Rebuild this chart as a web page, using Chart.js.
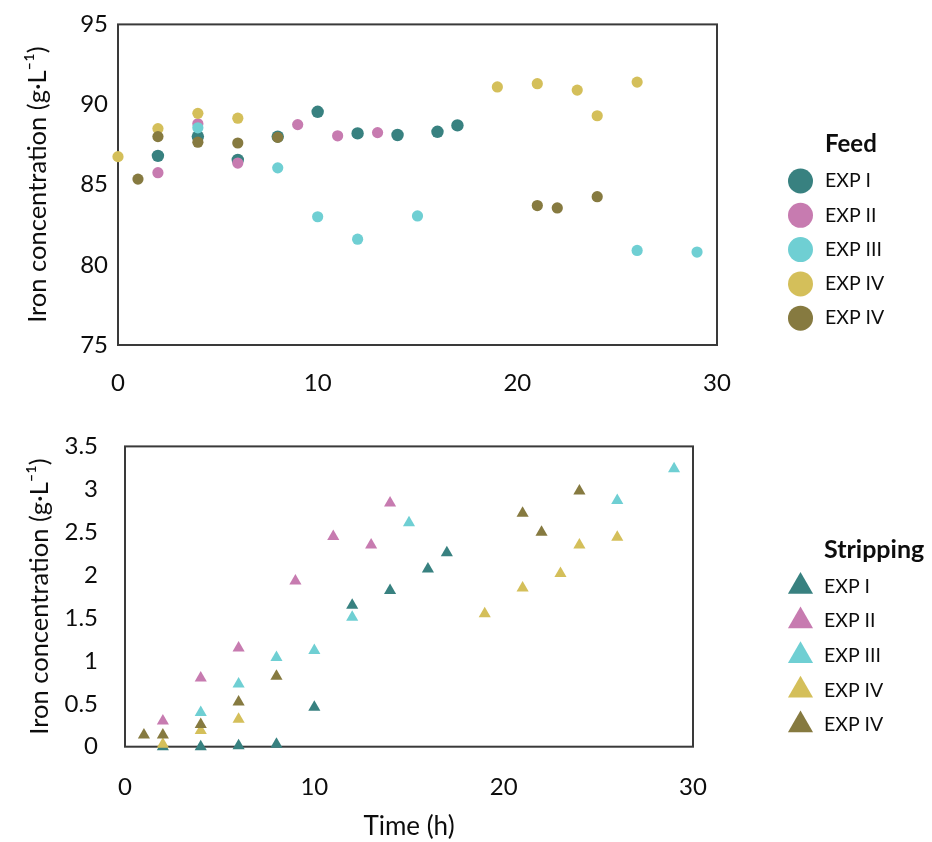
<!DOCTYPE html>
<html><head><meta charset="utf-8">
<script src="https://cdn.jsdelivr.net/npm/chart.js@4"></script>
<style>
html,body{margin:0;padding:0;background:#fff;overflow:hidden;width:932px;height:842px;}
canvas{position:absolute;left:0;}
#feed{top:0}
#strip{top:405px}
</style></head><body>
<canvas id="feed" width="932" height="410"></canvas>
<canvas id="strip" width="932" height="437"></canvas>
<script>
// ---------- data ----------
const seriesNames = ['EXP I', 'EXP II', 'EXP III', 'EXP IV', 'EXP IV'];
const seriesColors = ['#388180', '#c77bb0', '#6fcfd3', '#d4bf5a', '#867a40'];

const timeTicks = [0, 10, 20, 30];
const feedTicks = [75, 80, 85, 90, 95];
const stripTicks = [0, 0.5, 1, 1.5, 2, 2.5, 3, 3.5];

// Feed: [time (h), iron (g/L)]
const feedExpI   = [[2,86.8],[4,88.0],[6,86.55],[8,88.0],[10,89.55],[12,88.2],[14,88.1],[16,88.3],[17,88.7]];
const feedExpII  = [[2,85.75],[4,88.8],[6,86.35],[9,88.75],[11,88.05],[13,88.25]];
const feedExpIII = [[4,88.55],[8,86.05],[10,83.0],[12,81.6],[15,83.05],[26,80.9],[29,80.8]];
const feedExpIVa = [[0,86.75],[2,88.5],[4,89.45],[6,89.15],[19,91.1],[21,91.3],[23,90.9],[24,89.3],[26,91.4]];
const feedExpIVb = [[1,85.35],[2,88.0],[4,87.65],[6,87.6],[8,87.95],[21,83.7],[22,83.55],[24,84.25]];

// Stripping: [time (h), iron (g/L)]
const stripExpI   = [[2,0],[4,0],[6,0.01],[8,0.03],[10,0.46],[12,1.65],[14,1.82],[16,2.07],[17,2.26]];
const stripExpII  = [[2,0.30],[4,0.80],[6,1.15],[9,1.93],[11,2.45],[13,2.35],[14,2.84]];
const stripExpIII = [[4,0.40],[6,0.73],[8,1.04],[10,1.12],[12,1.51],[15,2.61],[26,2.87],[29,3.24]];
const stripExpIVa = [[2,0.03],[4,0.19],[6,0.32],[19,1.55],[21,1.85],[23,2.02],[24,2.35],[26,2.44]];
const stripExpIVb = [[1,0.135],[2,0.135],[4,0.26],[6,0.52],[8,0.82],[21,2.72],[22,2.50],[24,2.98]];

// ---------- styling ----------
const FONT = 'Lato, "Open Sans", sans-serif';
const TXT = '#0d0d0d';
const yTitle = 'Iron concentration (g·L⁻¹)';

function drawMarker(ctx, style, x, y, r) {
  ctx.beginPath();
  if (style === 'triangle') {
    let rad = 0;
    ctx.moveTo(x + Math.sin(rad) * r, y - Math.cos(rad) * r);
    rad += 2 * Math.PI / 3;
    ctx.lineTo(x + Math.sin(rad) * r, y - Math.cos(rad) * r);
    rad += 2 * Math.PI / 3;
    ctx.lineTo(x + Math.sin(rad) * r, y - Math.cos(rad) * r);
    ctx.closePath();
  } else {
    ctx.arc(x, y, r, 0, Math.PI * 2);
  }
  ctx.fill();
}

const framePlugin = {
  id: 'frame',
  beforeDatasetsDraw(chart) {
    const {left, top, right, bottom} = chart.chartArea;
    const ctx = chart.ctx;
    ctx.save();
    ctx.strokeStyle = '#3a3a3a';
    ctx.lineWidth = 2;
    ctx.strokeRect(left, top, right - left, bottom - top);
    ctx.restore();
  }
};

function legendPlugin(L) {
  return {
    id: 'sideLegend',
    afterDraw(chart) {
      const ctx = chart.ctx;
      ctx.save();
      ctx.textBaseline = 'middle';
      ctx.textAlign = 'left';
      ctx.fillStyle = TXT;
      ctx.font = 'bold ' + L.titleSize + 'px ' + FONT;
      ctx.fillText(L.title, L.textX, L.titleY);
      ctx.font = L.size + 'px ' + FONT;
      chart.data.datasets.forEach((ds, i) => {
        const y = L.y0 + i * L.dy;
        ctx.fillStyle = ds.backgroundColor;
        drawMarker(ctx, ds.pointStyle, L.markerX, y, L.r);
        ctx.fillStyle = TXT;
        ctx.fillText(ds.label, L.textX, y);
      });
      ctx.restore();
    }
  };
}

function build(id, p) {
  return new Chart(document.getElementById(id), {
    type: 'scatter',
    data: {
      datasets: p.series.map((s, i) => ({
        label: seriesNames[i],
        data: s.map(([x, y]) => ({x, y})),
        backgroundColor: seriesColors[i],
        borderColor: seriesColors[i],
        borderWidth: 0,
        pointBorderWidth: 0,
        pointStyle: p.style,
        pointRadius: p.radius[i],
        pointHoverRadius: p.radius[i],
        order: seriesNames.length - i,
        clip: false
      }))
    },
    options: {
      responsive: false,
      animation: false,
      devicePixelRatio: 1,
      layout: {padding: {left: 0, top: p.top, right: 932 - p.right, bottom: 0}},
      plugins: {legend: {display: false}, tooltip: {enabled: false}},
      scales: {
        x: {
          type: 'linear', min: 0, max: 30,
          afterBuildTicks: ax => { ax.ticks = timeTicks.map(v => ({value: v})); },
          afterFit: ax => { ax.height = p.height - p.bottom; },
          grid: {display: false, drawTicks: false},
          border: {display: false},
          ticks: {padding: p.xPad, maxRotation: 0, color: TXT, font: {family: FONT, size: 24}, callback: v => String(v)},
          title: p.xTitle ? {display: true, text: p.xTitle, color: TXT, font: {family: FONT, size: 26}, padding: {top: 0, bottom: 0}} : {display: false}
        },
        y: {
          type: 'linear', min: p.yMin, max: p.yMax,
          afterBuildTicks: ax => { ax.ticks = p.yTicks.map(v => ({value: v})); },
          afterFit: ax => { ax.width = p.left; },
          grid: {display: false, drawTicks: false},
          border: {display: false},
          ticks: {padding: p.yPad, color: TXT, font: {family: FONT, size: 24}, callback: v => String(v)},
          title: {display: true, text: yTitle, color: TXT, font: {family: FONT, size: 25.5}, padding: {top: p.yTitlePad, bottom: 0}}
        }
      }
    },
    plugins: [framePlugin, legendPlugin(p.legend)]
  });
}

build('feed', {
  series: [feedExpI, feedExpII, feedExpIII, feedExpIVa, feedExpIVb],
  style: 'circle', radius: [6.2, 5.6, 5.6, 5.6, 5.6],
  height: 410, left: 118, right: 717, top: 23, bottom: 345,
  yMin: 75, yMax: 95, yTicks: feedTicks,
  xPad: 24, yPad: 10, yTitlePad: 22.5, xTitle: null,
  legend: {title: 'Feed', titleSize: 24, size: 19.5, textX: 825, titleY: 144, markerX: 800.5, y0: 181, dy: 34.3, r: 12.5}
});

build('strip', {
  series: [stripExpI, stripExpII, stripExpIII, stripExpIVa, stripExpIVb],
  style: 'triangle', radius: [7, 7, 7, 7, 7],
  height: 437, left: 125, right: 693, top: 21, bottom: 341.7,
  yMin: 0, yMax: 3.5, yTicks: stripTicks,
  xPad: 26, yPad: 27, yTitlePad: 24, xTitle: 'Time (h)',
  legend: {title: 'Stripping', titleSize: 25, size: 19.5, textX: 824, titleY: 145, markerX: 800.5, y0: 181.5, dy: 34.6, r: 14.5}
});
</script>
</body></html>
